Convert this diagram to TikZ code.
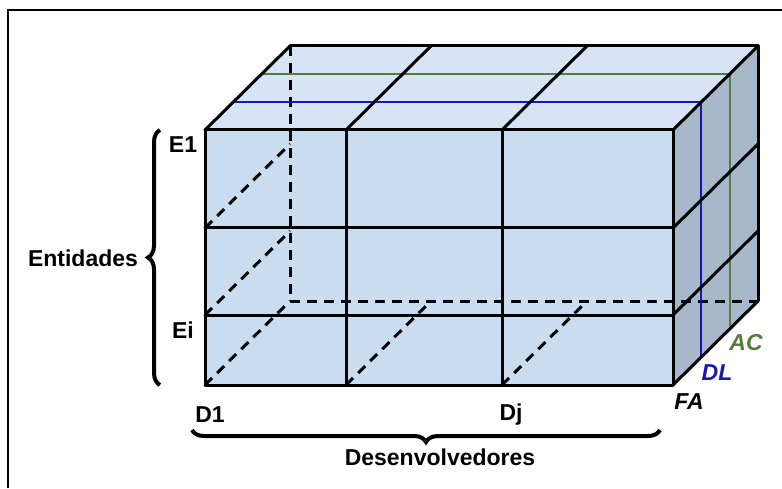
\documentclass[tikz,border=0pt]{standalone}
\usepackage{fontspec}
\setmainfont{Liberation Sans}
\usetikzlibrary{decorations.pathreplacing}
\definecolor{frontblue}{RGB}{201,220,240}
\definecolor{topblue}{RGB}{214,228,245}
\definecolor{sidegray}{RGB}{168,183,201}
\definecolor{dlblue}{RGB}{24,24,176}
\definecolor{acgreen}{RGB}{84,124,62}
\begin{document}
\begin{tikzpicture}[x=1pt,y=1pt,
  edge/.style={line width=3pt,line cap=round,line join=round},
  hidden/.style={line width=3pt,dash pattern=on 10pt off 7pt},
  slice/.style={line width=2.6pt},
  lbl/.style={font=\bfseries\fontsize{23}{26}\selectfont,inner sep=0pt},
  slbl/.style={lbl,font=\bfseries\itshape\fontsize{23}{26}\selectfont},
  bracestyle/.style={decorate,decoration={brace,amplitude=12pt},line width=4pt}]
\useasboundingbox (0,0) rectangle (782,488);
\draw[line width=1.2pt] (8,0) -- (8,478) -- (782,478);

% faces of the cube
\fill[frontblue] (205,103) rectangle (673,358);
\fill[topblue] (205,358) -- (290,442) -- (758,442) -- (673,358) -- cycle;
\fill[sidegray] (673,103) -- (758,187) -- (758,442) -- (673,358) -- cycle;

% hidden edges
\draw[hidden] (290,442) -- (290,187) -- (758,187);
\foreach \y/\yb in {260/344,173/257,103/187}
  \draw[hidden] (205,\y) -- (290,\yb);
\foreach \x/\xb in {346/431,502/587}
  \draw[hidden] (\x,103) -- (\xb,187);

% slices DL and AC
\draw[slice,dlblue] (233,386) -- (701,386) -- (701,131);
\draw[slice,acgreen] (262,414) -- (730,414) -- (730,159);

% visible edges
\foreach \y in {358,260,173,103}
  \draw[edge] (205,\y) -- (673,\y);
\foreach \x in {205,346,502,673}
  \draw[edge] (\x,103) -- (\x,358);
\foreach \x/\xb in {205/290,346/431,502/587,673/758}
  \draw[edge] (\x,358) -- (\xb,442);
\draw[edge] (290,442) -- (758,442) -- (758,187);
\foreach \y/\yb in {260/344,173/257,103/187}
  \draw[edge] (673,\y) -- (758,\yb);

% labels
\node[lbl] (e1) at (183,343) {E1};
\node[lbl] (ei) at (183,158) {Ei};
\node[lbl] (entidades) at (83,230) {Entidades};
\node[lbl] (d1) at (210,73) {D1};
\node[lbl] (dj) at (511,73) {Dj};
\node[lbl] (desenv) at (440,31) {Desenvolvedores};
\node[slbl] (fa) at (689,86) {FA};
\node[slbl,text=dlblue] (dl) at (717,115) {DL};
\node[slbl,text=acgreen] (ac) at (746,145) {AC};

% braces
\coordinate (lb) at (160,103);
\coordinate (lt) at (160,358);
\coordinate (br) at (660,58);
\coordinate (bl) at (192,58);
\draw[bracestyle] (lb) -- (lt);
\draw[bracestyle] (br) -- (bl);
\end{tikzpicture}
\end{document}
